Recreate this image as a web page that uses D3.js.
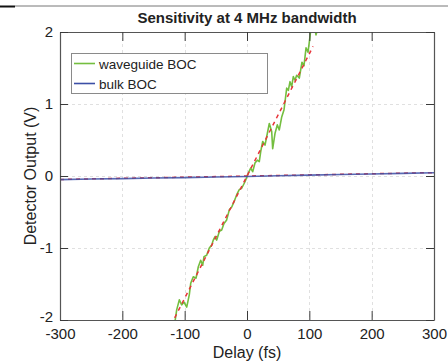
<!DOCTYPE html>
<html>
<head>
<meta charset="utf-8">
<script src="https://cdn.jsdelivr.net/npm/d3@7"></script>
<style>
  html, body { margin: 0; padding: 0; background: #fff; }
  svg { display: block; font-family: "Liberation Sans", Arial, Helvetica, sans-serif; }
</style>
</head>
<body>
<svg id="chart" width="448" height="362"></svg>
<script>
// ---- data ----
const title = "Sensitivity at 4 MHz bandwidth";
const xLabel = "Delay (fs)";
const yLabel = "Detector Output (V)";
const xTicks = [-300, -200, -100, 0, 100, 200, 300];
const yTicks = [-2, -1, 0, 1, 2];
const seriesNames = ["waveguide BOC", "bulk BOC"];

const waveguideDelay = [-115.5, -112.8, -108.6, -104.8, -101.1, -96.7, -92.6, -90.3, -86.2, -81.8,
  -78.1, -74.3, -71.1, -69.0, -64.7, -60.5, -56.6, -54.1, -51.3, -48.6,
  -44.4, -40.6, -36.9, -32.6, -28.4, -24.5, -20.9, -16.5, -12.4, -8.5,
  -3.2, 2.1, 5.9, 9.1, 12.8, 16.5, 19.7, 22.0, 25.2, 28.9,
  32.6, 35.8, 39.6, 41.2, 44.9, 48.6, 51.8, 55.7, 59.4, 63.7,
  66.3, 69.0, 71.7, 74.3, 77.0, 79.7, 83.9, 88.2, 91.4, 94.7,
  97.9, 101.1, 102.7, 105.9, 109.1, 110.7, 113.9, 117.1];
const waveguideVolt = [-2.02, -1.86, -1.72, -1.79, -1.75, -1.82, -1.65, -1.49, -1.40, -1.42,
  -1.26, -1.17, -1.24, -1.12, -1.10, -1.00, -0.96, -0.89, -0.84, -0.89,
  -0.77, -0.75, -0.66, -0.61, -0.47, -0.43, -0.36, -0.26, -0.19, -0.17,
  -0.08, 0.04, 0.11, 0.06, 0.18, 0.22, 0.20, 0.34, 0.48, 0.43,
  0.59, 0.73, 0.62, 0.38, 0.59, 0.71, 0.64, 0.82, 0.92, 1.22,
  1.19, 1.31, 1.24, 1.38, 1.33, 1.40, 1.36, 1.58, 1.53, 1.78,
  1.72, 1.94, 2.06, 2.17, 2.03, 1.96, 2.06, 2.17];
const waveguideFitDelay = [-116, 106];
const waveguideFitVolt = [-1.97, 1.80];

const bulkDelay = [-300, -250, -200, -150, -100, -50, 0, 50, 100, 150, 200, 250, 300];
const bulkVolt = [-0.05, -0.042, -0.036, -0.028, -0.022, -0.014, -0.006, 0.004, 0.012, 0.02, 0.028, 0.036, 0.045];
const bulkFitDelay = [-300, 300];
const bulkFitVolt = [-0.048, 0.047];

// ---- layout ----
const svg = d3.select("#chart");
const L = 60, R = 434, T = 32, B = 320;
const x = d3.scaleLinear().domain([-300, 300]).range([L, R]);
const y = d3.scaleLinear().domain([-2, 2]).range([B, T]);

const colGreen = "#74be3f", colBlue = "#3c4fa6", colRed = "#e8343a";
const fmt = d => String(d);

// top stray border lines from the source image
svg.append("line").attr("x1", 0).attr("x2", 15).attr("y1", 6.5).attr("y2", 6.5)
  .attr("stroke", "#111").attr("stroke-width", 2);
svg.append("line").attr("x1", 15).attr("x2", 448).attr("y1", 6).attr("y2", 6)
  .attr("stroke", "#777").attr("stroke-width", 1);

svg.append("rect").attr("x", L).attr("y", T).attr("width", R - L).attr("height", B - T).attr("fill", "#fff");

// grid
const grid = svg.append("g").attr("stroke", "#e0e0e0").attr("stroke-width", 1).attr("stroke-dasharray", "3,3");
xTicks.slice(1, -1).forEach(t => grid.append("line")
  .attr("x1", Math.round(x(t)) + 0.5).attr("x2", Math.round(x(t)) + 0.5).attr("y1", T).attr("y2", B));
yTicks.slice(1, -1).forEach(t => grid.append("line")
  .attr("x1", L).attr("x2", R).attr("y1", Math.round(y(t)) + 0.5).attr("y2", Math.round(y(t)) + 0.5));

// clip
svg.append("clipPath").attr("id", "clip").append("rect")
  .attr("x", L).attr("y", T).attr("width", R - L).attr("height", B - T);
const plot = svg.append("g").attr("clip-path", "url(#clip)");
const line = d3.line().x(d => x(d[0])).y(d => y(d[1]));

plot.append("path").datum(waveguideDelay.map((d, i) => [d, waveguideVolt[i]]))
  .attr("d", line).attr("fill", "none").attr("stroke", colGreen).attr("stroke-width", 1.6)
  .attr("stroke-linejoin", "round");
plot.append("path").datum(waveguideFitDelay.map((d, i) => [d, waveguideFitVolt[i]]))
  .attr("d", line).attr("fill", "none").attr("stroke", colRed).attr("stroke-width", 1.5)
  .attr("stroke-dasharray", "4,4");
plot.append("path").datum(bulkFitDelay.map((d, i) => [d, bulkFitVolt[i]]))
  .attr("d", line).attr("fill", "none").attr("stroke", colRed).attr("stroke-width", 1.5)
  .attr("stroke-dasharray", "4,4");
plot.append("path").datum(bulkDelay.map((d, i) => [d, bulkVolt[i]]))
  .attr("d", line).attr("fill", "none").attr("stroke", colBlue).attr("stroke-width", 1.6)
  .attr("opacity", 0.85);

// axes frame with inward ticks
const axisColor = "#3a3a3a";
const xb = svg.append("g").attr("transform", `translate(0,${B})`)
  .call(d3.axisBottom(x).tickValues(xTicks).tickSizeInner(-9).tickSizeOuter(0).tickPadding(8)
    .tickFormat(fmt));
const xt = svg.append("g").attr("transform", `translate(0,${T})`)
  .call(d3.axisTop(x).tickValues(xTicks).tickSizeInner(-9).tickSizeOuter(0).tickFormat(""));
const yl = svg.append("g").attr("transform", `translate(${L},0)`)
  .call(d3.axisLeft(y).tickValues(yTicks).tickSizeInner(-8).tickSizeOuter(0).tickPadding(7)
    .tickFormat(fmt));
const yr = svg.append("g").attr("transform", `translate(${R},0)`)
  .call(d3.axisRight(y).tickValues(yTicks).tickSizeInner(-8).tickSizeOuter(0).tickFormat(""));
[xb, xt, yl, yr].forEach(g => {
  g.select(".domain").attr("stroke", "#555").attr("stroke-width", 1.2);
  g.selectAll(".tick line").attr("stroke", axisColor).attr("stroke-width", 1);
  g.selectAll("text").attr("fill", "#222").attr("font-size", 15)
    .attr("font-family", "'Liberation Sans', Arial, sans-serif");
});
// lift the bottom y label slightly so it clears the first x label
yl.selectAll(".tick").filter(d => d === -2).select("text").attr("dy", "0.1em");

// labels
svg.append("text").attr("x", (L + R) / 2).attr("y", 23).attr("text-anchor", "middle")
  .attr("font-size", 15).attr("font-weight", "bold").attr("fill", "#222").text(title);
svg.append("text").attr("x", (L + R) / 2).attr("y", 358).attr("text-anchor", "middle")
  .attr("font-size", 16).attr("fill", "#222").text(xLabel);
svg.append("text").attr("transform", `translate(36,${(T + B) / 2}) rotate(-90)`)
  .attr("text-anchor", "middle").attr("font-size", 16).attr("fill", "#222").text(yLabel);

// legend
const lg = svg.append("g");
lg.append("rect").attr("x", 71.5).attr("y", 53.5).attr("width", 196).attr("height", 40)
  .attr("fill", "#fff").attr("stroke", "#8a8a8a").attr("stroke-width", 1);
const legendColors = [colGreen, colBlue];
seriesNames.forEach((name, i) => {
  const yy = 63.5 + i * 20;
  lg.append("line").attr("x1", 74).attr("x2", 95).attr("y1", yy).attr("y2", yy)
    .attr("stroke", legendColors[i]).attr("stroke-width", 1.6);
  lg.append("text").attr("x", 99).attr("y", yy + 5).attr("font-size", 13.5).attr("fill", "#222").text(name);
});
</script>
</body>
</html>
